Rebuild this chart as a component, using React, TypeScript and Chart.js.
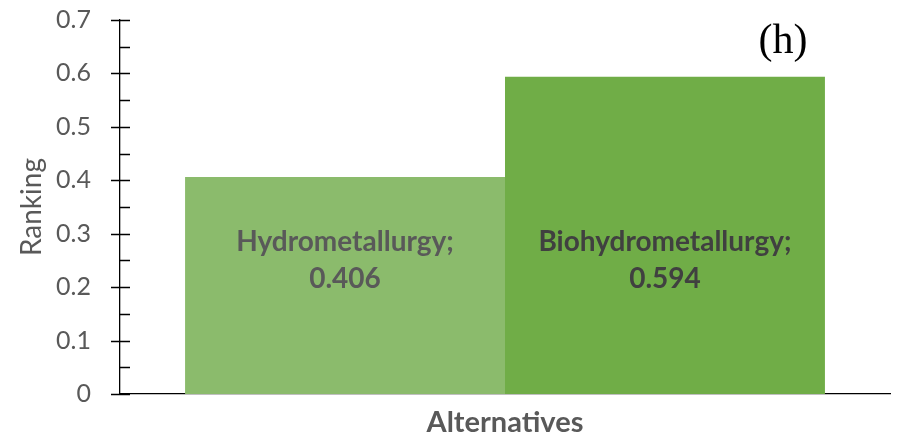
import React, { useEffect, useRef } from "react";
import { Chart, registerables } from "chart.js";

Chart.register(...registerables);

const categories = [""];
const seriesNames = ["Hydrometallurgy", "Biohydrometallurgy"];
const seriesValues = [0.406, 0.594];
const seriesColors = ["#8BBB6C", "#70AD47"];
const labelColors = ["#595959", "#404040"];
const yMin = 0;
const yMax = 0.7;
const yStep = 0.1;
const labelAnchorValue = 0.25;
const panelTag = "(h)";

const FONT = "Lato, 'Open Sans', sans-serif";

const axisTicksPlugin = {
  id: "axisTicks",
  afterDraw(chart: any) {
    const { ctx, scales } = chart;
    const y = scales.y;
    const x0 = chart.chartArea.left;
    ctx.save();
    ctx.strokeStyle = "#000000";
    ctx.lineWidth = 1.3;
    const ticks = y.ticks.map((t: any) => t.value);
    ctx.beginPath();
    ticks.forEach((v: number, i: number) => {
      const py = Math.round(y.getPixelForValue(v)) + 0.5;
      ctx.moveTo(x0 - 9, py);
      ctx.lineTo(x0 + 10, py);
      if (i < ticks.length - 1) {
        const my = Math.round(y.getPixelForValue((v + ticks[i + 1]) / 2)) + 0.5;
        ctx.moveTo(x0, my);
        ctx.lineTo(x0 + 10, my);
      }
    });
    ctx.stroke();
    ctx.restore();
  },
};

const dataLabelPlugin = {
  id: "dataLabels",
  afterDatasetsDraw(chart: any) {
    const { ctx, scales } = chart;
    ctx.save();
    ctx.font = `bold 28px ${FONT}`;
    ctx.textAlign = "center";
    ctx.textBaseline = "middle";
    const yc = scales.y.getPixelForValue(labelAnchorValue);
    chart.data.datasets.forEach((ds: any, i: number) => {
      const meta = chart.getDatasetMeta(i);
      const bar = meta.data[0];
      ctx.fillStyle = labelColors[i];
      ctx.fillText(ds.label + ";", bar.x, yc - 18.5);
      ctx.fillText(ds.data[0].toFixed(3), bar.x, yc + 18.5);
    });
    ctx.font = `42px 'Liberation Serif', 'Times New Roman', serif`;
    ctx.fillStyle = "#000000";
    ctx.textAlign = "center";
    ctx.fillText(panelTag, 783, 42);
    ctx.restore();
  },
};

export default function App() {
  const ref = useRef<HTMLCanvasElement | null>(null);
  useEffect(() => {
    if (!ref.current) return;
    const chart = new Chart(ref.current, {
      type: "bar",
      data: {
        labels: categories,
        datasets: seriesNames.map((name, i) => ({
          label: name,
          data: [seriesValues[i]],
          backgroundColor: seriesColors[i],
          borderWidth: 0,
          barPercentage: 1,
          categoryPercentage: 0.831,
        })),
      },
      options: {
        animation: false,
        responsive: false,
        devicePixelRatio: 1,
        layout: { padding: { top: 0, right: 12, bottom: 0, left: 0 } },
        plugins: { legend: { display: false }, tooltip: { enabled: false } },
        scales: {
          x: {
            grid: { display: false, drawTicks: false },
            border: { display: true, color: "#000000", width: 1.3 },
            ticks: { display: false },
            title: {
              display: true,
              text: "Alternatives",
              color: "#595959",
              font: { family: FONT, size: 29, weight: "bold" },
              padding: { top: 0, bottom: 1 },
            },
            afterFit: (s: any) => {
              s.height = 47;
            },
          },
          y: {
            min: yMin,
            max: yMax,
            grid: { display: false, drawTicks: false },
            border: { display: true, color: "#000000", width: 1.3 },
            ticks: {
              stepSize: yStep,
              color: "#595959",
              padding: 29,
              font: { family: FONT, size: 25 },
              callback: (v: any) => (Number(v) === 0 ? "0" : Number(v).toFixed(1)),
            },
            title: {
              display: true,
              text: "Ranking",
              color: "#595959",
              font: { family: FONT, size: 28 },
              padding: { top: 15, bottom: 0 },
            },
            afterFit: (s: any) => {
              s.width = 120;
              s.paddingTop = 20;
              s.paddingBottom = 0;
            },
          },
        },
      },
      plugins: [axisTicksPlugin, dataLabelPlugin],
    });
    return () => chart.destroy();
  }, []);
  return (
    <div style={{ position: "fixed", left: 0, top: 0, width: 902, height: 441, background: "#ffffff" }}>
      <canvas ref={ref} width={902} height={441} style={{ display: "block" }} />
    </div>
  );
}
